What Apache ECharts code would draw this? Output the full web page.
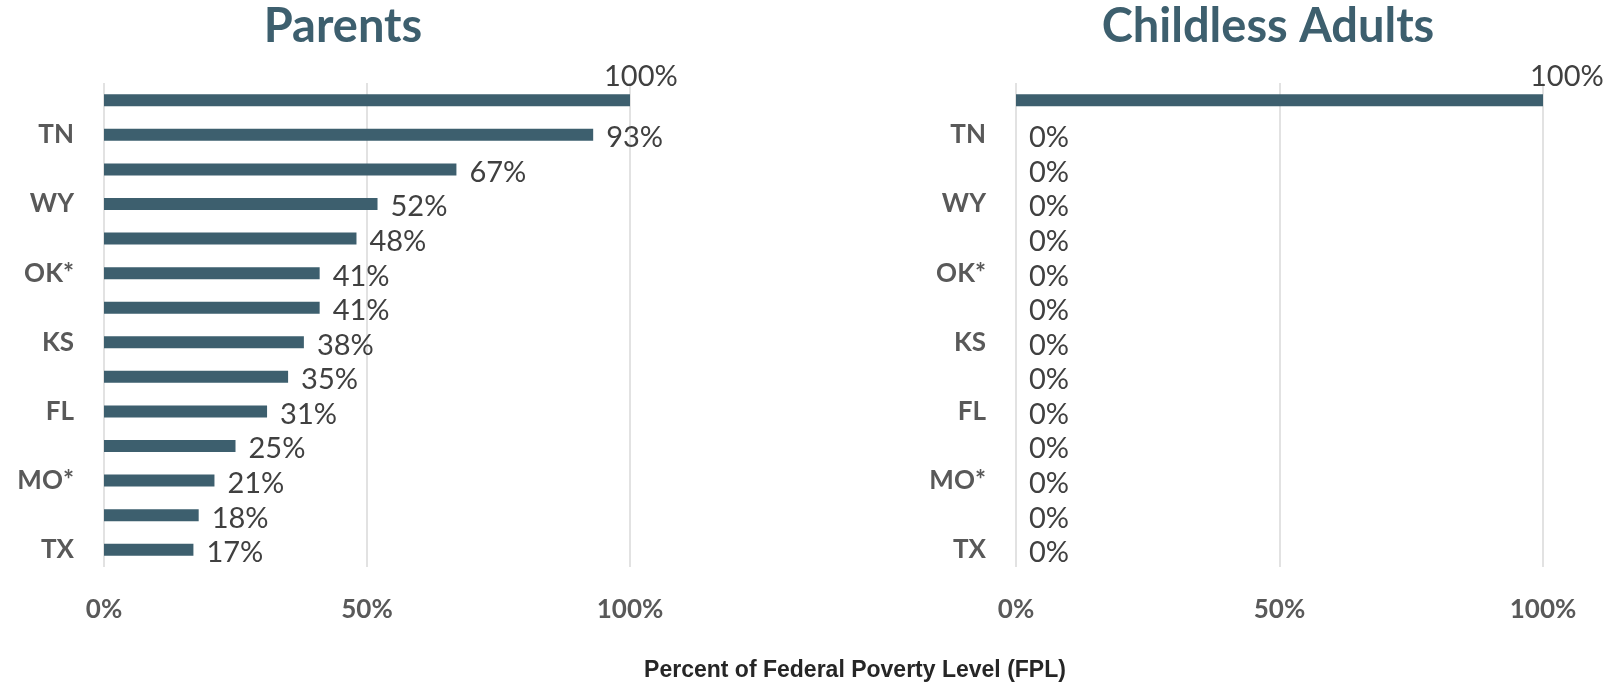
<!DOCTYPE html>
<html>
<head>
<meta charset="utf-8">
<script src="https://cdn.jsdelivr.net/npm/echarts@6/dist/echarts.min.js"></script>
<style>
  html, body { margin: 0; padding: 0; background: #fff; }
  #main { width: 1614px; height: 686px; }
</style>
</head>
<body>
<div id="main"></div>
<script>
// states, top to bottom (only every other one gets a visible label)
var states = ['WI', 'TN', 'SC', 'WY', 'SD', 'OK*', 'NC', 'KS', 'GA', 'FL', 'MS', 'MO*', 'AL', 'TX'];
// eligibility limits, % of FPL
var parents = [100, 93, 67, 52, 48, 41, 41, 38, 35, 31, 25, 21, 18, 17];
var childless = [100, 0, 0, 0, 0, 0, 0, 0, 0, 0, 0, 0, 0, 0];
var panelTitles = ['Parents', 'Childless Adults'];
var axisTitle = 'Percent of Federal Poverty Level (FPL)';
var xTicks = { min: 0, max: 100, interval: 50 };

var barColor = '#3d5f6e';
var gridColor = '#d9d9d9';

function makeData(values, topOffsetX) {
    // the 100% label sits above the bar end, as in the source
    return values.map(function (v) {
        if (v >= 100) {
            return { value: v, label: { offset: [topOffsetX, -24] } };
        }
        return v;
    });
}

var myChart = echarts.init(document.getElementById('main'));

var xAxisBase = {
    type: 'value',
    min: xTicks.min,
    max: xTicks.max,
    interval: xTicks.interval,
    axisLine: { show: false },
    axisTick: { show: false },
    splitLine: { lineStyle: { color: gridColor, width: 1.5 } },
    axisLabel: {
        formatter: '{value}%',
        margin: 30,
        color: '#595959',
        fontFamily: 'Lato',
        fontWeight: 'bold',
        fontSize: 26
    }
};

var yAxisBase = {
    type: 'category',
    data: states,
    inverse: true,
    axisLine: { show: false },
    axisTick: { show: false },
    axisLabel: {
        interval: function (idx) { return idx % 2 === 1; },
        margin: 30,
        padding: [4, 0, 0, 0],
        color: '#595959',
        fontFamily: 'Lato',
        fontWeight: 'bold',
        fontSize: 26
    }
};

var labelBase = {
    show: true,
    position: 'right',
    distance: 13,
    offset: [0, 3],
    formatter: '{c}%',
    color: '#404040',
    fontFamily: 'Lato',
    fontSize: 29
};

var titleStyle = { color: barColor, fontFamily: 'Lato', fontWeight: 'bold', fontSize: 47 };

var option = {
    backgroundColor: '#fff',
    animation: false,
    title: [
        { text: panelTitles[0], left: 338, top: -2, textAlign: 'center', textStyle: titleStyle },
        { text: panelTitles[1], left: 1263, top: -2, textAlign: 'center', textStyle: titleStyle },
        {
            text: axisTitle, left: 850, top: 654, textAlign: 'center',
            textStyle: { color: '#262626', fontFamily: 'Liberation Sans', fontWeight: 'bold', fontSize: 23 }
        }
    ],
    grid: [
        { left: 104, width: 526, top: 83, height: 484 },
        { left: 1016, width: 527, top: 83, height: 484 }
    ],
    xAxis: [
        Object.assign({ gridIndex: 0 }, xAxisBase),
        Object.assign({ gridIndex: 1 }, xAxisBase)
    ],
    yAxis: [
        Object.assign({ gridIndex: 0 }, yAxisBase),
        Object.assign({ gridIndex: 1 }, yAxisBase)
    ],
    series: [
        {
            name: panelTitles[0], type: 'bar', xAxisIndex: 0, yAxisIndex: 0,
            barWidth: 12, itemStyle: { color: barColor },
            label: labelBase,
            data: makeData(parents, -39)
        },
        {
            name: panelTitles[1], type: 'bar', xAxisIndex: 1, yAxisIndex: 1,
            barWidth: 12, itemStyle: { color: barColor },
            label: labelBase,
            data: makeData(childless, -26)
        }
    ]
};

myChart.setOption(option);
</script>
</body>
</html>
